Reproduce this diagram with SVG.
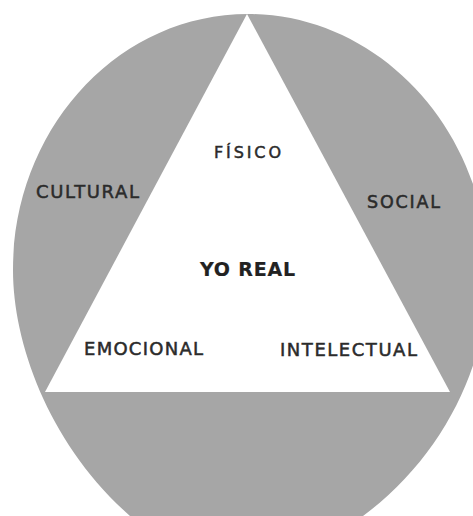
<svg xmlns="http://www.w3.org/2000/svg" width="473" height="516" viewBox="0 0 473 516">
  <style>
    .lbl { font-family: "DejaVu Sans", "Liberation Sans", sans-serif; fill: #2b2b2b; stroke: #2b2b2b; stroke-width: 0.5; }
    .bold { font-weight: bold; stroke-width: 0.2; fill: #222; stroke: #222; }
  </style>
  <rect x="0" y="0" width="473" height="516" fill="#ffffff"/>
  <g id="circle">
    <path d="M 248 14 C 118 14 13 129 13 270 C 13 345 50 445 130 516 L 144 530 L 349 530 L 363 516 C 445 455 490 360 488 270 C 486 129 378 14 248 14 Z" fill="#a6a6a6"/>
  </g>
  <g id="triangle">
    <polygon points="247,14 45,392 450,392" fill="#ffffff"/>
  </g>
  <g id="connectors"></g>
  <g id="label-fisico"><text class="lbl" x="214" y="158" font-size="16" textLength="67" lengthAdjust="spacing">FÍSICO</text></g>
  <g id="label-cultural"><text class="lbl" x="36" y="197.5" font-size="18" textLength="103" lengthAdjust="spacing">CULTURAL</text></g>
  <g id="label-social"><text class="lbl" x="367" y="208" font-size="17.5" textLength="73" lengthAdjust="spacing">SOCIAL</text></g>
  <g id="label-yo-real"><text class="lbl bold" x="200" y="276" font-size="19" textLength="95" lengthAdjust="spacing">YO REAL</text></g>
  <g id="label-emocional"><text class="lbl" x="84" y="355" font-size="18" textLength="119" lengthAdjust="spacing">EMOCIONAL</text></g>
  <g id="label-intelectual"><text class="lbl" x="280" y="356" font-size="18" textLength="137" lengthAdjust="spacing">INTELECTUAL</text></g>
</svg>
